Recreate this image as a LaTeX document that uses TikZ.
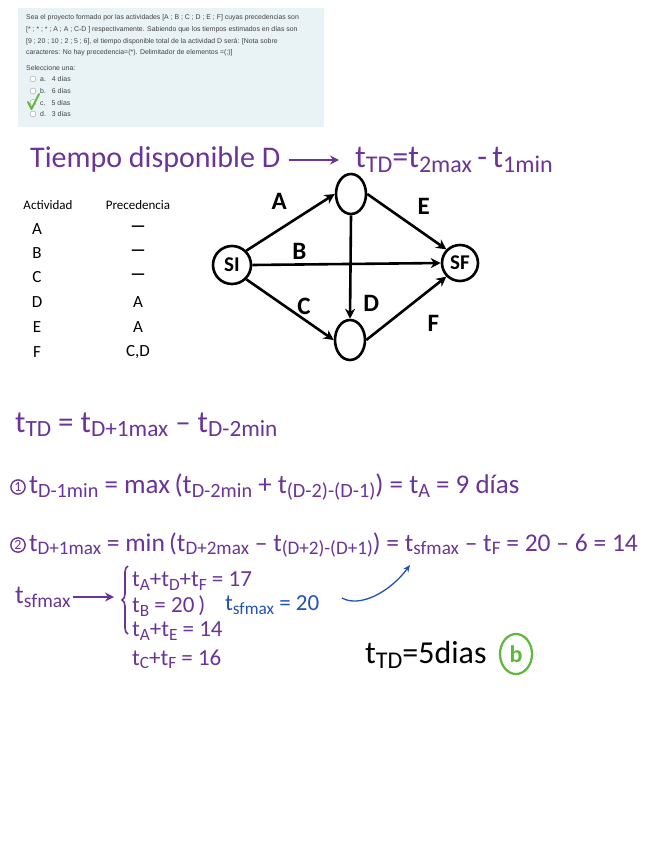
\documentclass[tikz,border=0pt]{standalone}
\usepackage{fontspec}
\usepackage{graphicx}
\setmainfont{Liberation Sans}
\newfontfamily\hand{Carlito}
\usetikzlibrary{positioning,arrows.meta,shapes.geometric,decorations.pathreplacing}

\definecolor{quizbg}{HTML}{E9F3F5}
\definecolor{pen}{HTML}{6A3597}
\definecolor{penblue}{HTML}{2152B5}
\definecolor{pengreen}{HTML}{5DB83C}
\newcommand{\idx}[1]{\raisebox{-0.3ex}{\scalebox{0.75}{#1}}}

\tikzset{
  quiz/.style={anchor=west, inner sep=0pt, text=black!75, font=\fontsize{6.9}{7}\selectfont},
  radio/.style={circle, draw=black!40, fill=white, minimum size=6pt, inner sep=0pt},
  tab/.style={inner sep=0pt, font=\hand\fontsize{17}{17}\selectfont},
  event/.style={circle, draw, line width=2.6pt, minimum size=38pt, inner sep=0pt, font=\hand\bfseries\fontsize{21}{21}\selectfont},
  act/.style={-{Stealth[length=10pt,width=10pt]}, line width=2.6pt},
  lbl/.style={anchor=center, font=\hand\bfseries\fontsize{25}{25}\selectfont},
  eq/.style={anchor=west, inner sep=0pt, text=pen, font=\hand\fontsize{24}{24}\selectfont},
  num/.style={circle, draw=pen, line width=1.4pt, inner sep=1pt, text=pen, font=\hand\fontsize{14}{14}\selectfont},
  penarrow/.style={-{Stealth[length=9pt,width=9pt]}, line width=2pt, draw=pen}
}

\begin{document}
\begin{tikzpicture}[x=1pt,y=-1pt]
\useasboundingbox (0,0) rectangle (646,848);
\fill[white] (0,0) rectangle (646,848);

% question box
\fill[quizbg] (18,8) rectangle (324,127);
\node[quiz] (q1) at (26,18) {Sea el proyecto formado por las actividades [A ; B ; C ; D ; E ; F] cuyas precedencias son};
\node[quiz] (q2) at (26,30) {[* ; * ; * ; A ; A ; C-D ] respectivamente. Sabiendo que los tiempos estimados en días son};
\node[quiz] (q3) at (26,41.5) {[9 ; 20 ; 10 ; 2 ; 5 ; 6], el tiempo disponible total de la actividad D será: [Nota sobre};
\node[quiz] (q4) at (26,53) {caracteres: No hay precedencia=(*). Delimitador de elementos =(;)]};
\node[quiz] (sel) at (26,68) {Seleccione una:};
\foreach \y/\l/\d [count=\i] in {79/a/4, 91/b/6, 102.5/c/5, 114/d/3} {
  \node[radio] (r\i) at (33,\y) {};
  \node[quiz] (o\i) at (40,\y) {\l.\hspace{6pt}\d\ días};
}
\draw[pengreen, line width=2pt, line cap=round, line join=round] (28,102) -- (31.5,109) -- (39,94);

% title
\node[eq, font=\hand\fontsize{30}{30}\selectfont] (title) at (30,160) {Tiempo disponible D};
\node[eq, font=\hand\fontsize{32}{32}\selectfont] (tdef) at (355,160) {t\idx{TD}=t\idx{2max}\,-\,t\idx{1min}};
\draw[penarrow] ([xshift=8pt]title.east) -- ([xshift=-16pt]tdef.west);

% table
\node[tab, font=\hand\fontsize{13}{13}\selectfont] (hact) at (48,205) {Actividad};
\node[tab, font=\hand\fontsize{13}{13}\selectfont] (hpre) at (138,205) {Precedencia};
\foreach \a/\p/\y in {A/\textbf{—}/229, B/\textbf{—}/253, C/\textbf{—}/277, D/A/302, E/A/327, F/{C,D}/352} {
  \node[tab] (a\a) at (37,\y) {\a};
  \node[tab] (p\a) at (138,\y) {\p};
}

% network
\node[event] (si) at (232,265) {SI};
\node[event, ellipse, minimum width=30pt, minimum height=40pt] (n1) at (351,194) {};
\node[event, ellipse, minimum width=30pt, minimum height=40pt] (n2) at (350,340) {};
\node[event, minimum size=36pt] (sf) at (460,263) {SF};

\draw[act] (si.north east) -- (n1.west) node[lbl, pos=0.35, xshift=2pt, yshift=29pt] {A};
\draw[act] (n1.east) -- (sf.north west) node[lbl, pos=0.5, xshift=17pt, yshift=15pt] {E};
\draw[act] (si.east) -- (sf.west) node[lbl, pos=0.25, yshift=13pt] {B};
\draw[act] (n1.south) -- (n2.north) node[lbl, pos=0.85, xshift=21pt] {D};
\draw[act] (si.south east) -- (n2.west) node[lbl, pos=0.5, xshift=14pt, yshift=3pt] {C};
\draw[act] (n2.east) -- (sf.south west) node[lbl, pos=0.7, xshift=11pt, yshift=-28pt] {F};

% equations
\node[eq, font=\hand\fontsize{31}{31}\selectfont] (eq0) at (15,425) {t\idx{TD} = t\idx{D+1max} – t\idx{D-2min}};
\node[num] (c1) at (18,487) {1};
\node[eq, font=\hand\fontsize{27}{27}\selectfont, right=3pt of c1] (eq1) {t\idx{D-1min} = max\,(t\idx{D-2min} + t\idx{(D-2)-(D-1)}) = t\idx{A} = 9\ días};
\node[num] (c2) at (18,545) {2};
\node[eq, font=\hand\fontsize{25.5}{25.5}\selectfont, right=3pt of c2] (eq2) {t\idx{D+1max} = min\,(t\idx{D+2max} – t\idx{(D+2)-(D+1)}) = t\idx{sfmax} – t\idx{F} = 20 – 6 = 14};

% t sf max
\node[eq, font=\hand\fontsize{26}{26}\selectfont] (sfmax) at (15,597) {t\idx{sfmax}};
\coordinate (bt) at (128,566);
\coordinate (bb) at (128,634);
\draw[penarrow, line width=1.8pt] ([xshift=2pt]sfmax.east) -- ([xshift=-14pt]bt |- sfmax.east);
\draw[pen, line width=1.6pt, decorate, decoration={brace, amplitude=6pt}] (bb) -- (bt);
\node[eq, font=\hand\fontsize{23}{23}\selectfont] (s1) at (132,581) {t\idx{A}+t\idx{D}+t\idx{F} = 17};
\node[eq, font=\hand\fontsize{23}{23}\selectfont] (s2) at (132,606) {t\idx{B} = 20\,)};
\node[eq, font=\hand\fontsize{23}{23}\selectfont] (s3) at (132,631) {t\idx{A}+t\idx{E} = 14};
\node[eq, font=\hand\fontsize{23}{23}\selectfont] (s4) at (132,659) {t\idx{C}+t\idx{F} = 16};
\node[eq, text=penblue, font=\hand\fontsize{23}{23}\selectfont] (res) at (225,605) {t\idx{sfmax} = 20};
\coordinate (cs) at (342,598);
\coordinate (ce) at (410,565);
\draw[penblue, line width=1.3pt, -{Stealth[length=7pt,width=6pt]}] (cs) .. controls (360,608) and (390,592) .. (ce);

% answer
\node[eq, text=black, font=\hand\fontsize{32}{32}\selectfont] (ans) at (365,655) {t\idx{TD}=5dias};
\node[ellipse, draw=pengreen, line width=2.2pt, minimum width=32pt, minimum height=40pt, inner sep=0pt, text=pengreen, font=\hand\bfseries\fontsize{24}{24}\selectfont] (opt) at (516,654) {b};
\end{tikzpicture}
\end{document}
